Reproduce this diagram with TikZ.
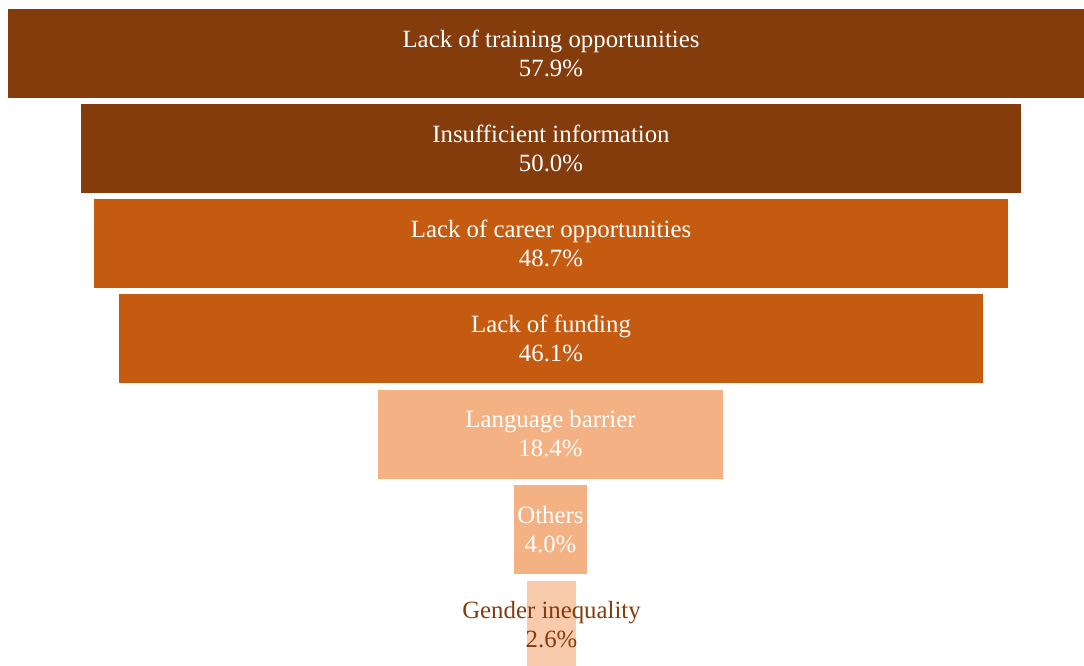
\documentclass[tikz,border=0pt]{standalone}
\usepackage{fontspec}
\setmainfont{Liberation Serif}
\definecolor{dbrown}{HTML}{843C0C}
\definecolor{orng}{HTML}{C55A11}
\definecolor{lorng}{HTML}{F4B183}
\definecolor{llorng}{HTML}{F8CBAD}
\tikzset{
  bar/.style={rectangle, inner sep=0pt, outer sep=0pt, draw=none, minimum height=89pt},
  lbl/.style={align=center, inner sep=0pt, font=\fontsize{24.8}{29}\selectfont, text=white},
}
\begin{document}
\begin{tikzpicture}[x=1pt,y=-1pt]
\useasboundingbox (0,0) rectangle (1084,666);
\node[bar, fill=dbrown, minimum width=1086pt] (b1) at (551,53.5) {};
\node[lbl] (t1) at (b1) {Lack of training opportunities\\57.9\%};
\node[bar, fill=dbrown, minimum width=940pt] (b2) at (551,148.5) {};
\node[lbl] (t2) at (b2) {Insufficient information\\50.0\%};
\node[bar, fill=orng, minimum width=914pt] (b3) at (551,243.5) {};
\node[lbl] (t3) at (b3) {Lack of career opportunities\\48.7\%};
\node[bar, fill=orng, minimum width=864pt] (b4) at (551,338.5) {};
\node[lbl] (t4) at (b4) {Lack of funding\\46.1\%};
\node[bar, fill=lorng, minimum width=345pt] (b5) at (550.5,434) {};
\node[lbl] (t5) at (b5) {Language barrier\\18.4\%};
\node[bar, fill=lorng, minimum width=73pt] (b6) at (550.5,529.5) {};
\node[lbl] (t6) at (b6) {Others\\4.0\%};
\node[bar, fill=llorng, minimum width=49pt, minimum height=88pt] (b7) at (551.5,624.5) {};
\node[lbl, text=dbrown] (t7) at (551.5,624.5) {Gender inequality\\2.6\%};
\end{tikzpicture}
\end{document}
